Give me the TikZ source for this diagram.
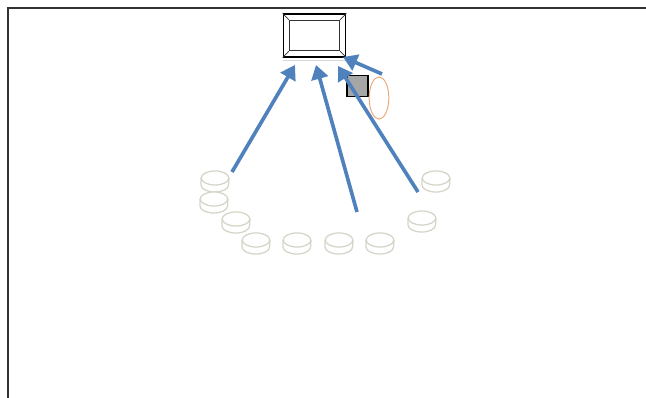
\documentclass[tikz,border=0pt]{standalone}
\usepackage{xcolor}
\usepackage{tikz}
\usetikzlibrary{arrows.meta,shapes.geometric,positioning}
\definecolor{feedblue}{RGB}{79,129,189}
\definecolor{disccol}{RGB}{212,212,200}
\definecolor{ringcol}{RGB}{236,170,120}

\begin{document}
\begin{tikzpicture}[
  x=0.025cm, y=-0.025cm,
  frame/.style={draw=black!80, line width=1.1pt},
  screen/.style={rectangle, draw=black, line width=1.2pt,
                 minimum width=44.1pt, minimum height=30.1pt, inner sep=0pt},
  screenin/.style={rectangle, draw=black!80, line width=0.8pt,
                   minimum width=35.7pt, minimum height=21.7pt, inner sep=0pt},
  disc/.style={ellipse, draw=disccol, line width=0.9pt, fill=white,
               minimum width=19.6pt, minimum height=10pt, inner sep=0pt},
  sensor/.style={rectangle, draw=black, fill=black!35, line width=1pt,
                 minimum size=14.7pt, inner sep=0pt},
  ring/.style={ellipse, draw=ringcol, line width=0.7pt,
               minimum width=14pt, minimum height=30pt, inner sep=0pt},
  feed/.style={-{Triangle[length=10pt, width=12pt]}, feedblue, line width=2.6pt},
]
\useasboundingbox (0,0) rectangle (646,398);

%% ── Frame ──────────────────────────────────────────────────────────────
\draw[frame] (646,8) -- (8,8) -- (8,398);

%% ── Screen ─────────────────────────────────────────────────────────────
\node[screen]   (mon)   at (314.5,35.5) {};
\node[screenin] (monin) at (314.5,35.5) {};
\foreach \c in {north west, north east, south west, south east}
  \draw[black!80, line width=0.5pt] (mon.\c) -- (monin.\c);
\draw[black!15, line width=1pt] (mon.south west) ++(0,3) -- ++(63,0);

%% ── Discs ──────────────────────────────────────────────────────────────
\foreach \n/\x/\y in {d1/215/178, d2/214/199, d3/236/219, d4/256/240,
                      d5/297/240, d6/339/240, d7/380/240, d8/422/218,
                      d9/436/178} {
  \draw[disccol, line width=0.9pt] (\x-14,\y) -- (\x-14,\y+7)
    arc[start angle=180, end angle=360, x radius=9.8pt, y radius=5pt]
    -- (\x+14,\y);
  \node[disc] (\n) at (\x,\y) {};
}

%% ── Sensor and ring ────────────────────────────────────────────────────
\node[sensor] (sq)   at (357.5,86) {};
\node[ring]   (loop) at (379,98)   {};

%% ── Feeds to the screen ────────────────────────────────────────────────
\coordinate (s1) at (232,172);
\coordinate (s2) at (357,212);
\coordinate (s3) at (418,192);
\coordinate (s4) at (382,74);
\coordinate (t1) at (295,65);
\coordinate (t2) at (316,65);
\coordinate (t3) at (338,66);
\coordinate (t4) at (343,57);

\draw[feed] (s1) -- (t1);
\draw[feed] (s2) -- (t2);
\draw[feed] (s3) -- (t3);
\draw[feed] (s4) -- (t4);

\end{tikzpicture}
\end{document}
